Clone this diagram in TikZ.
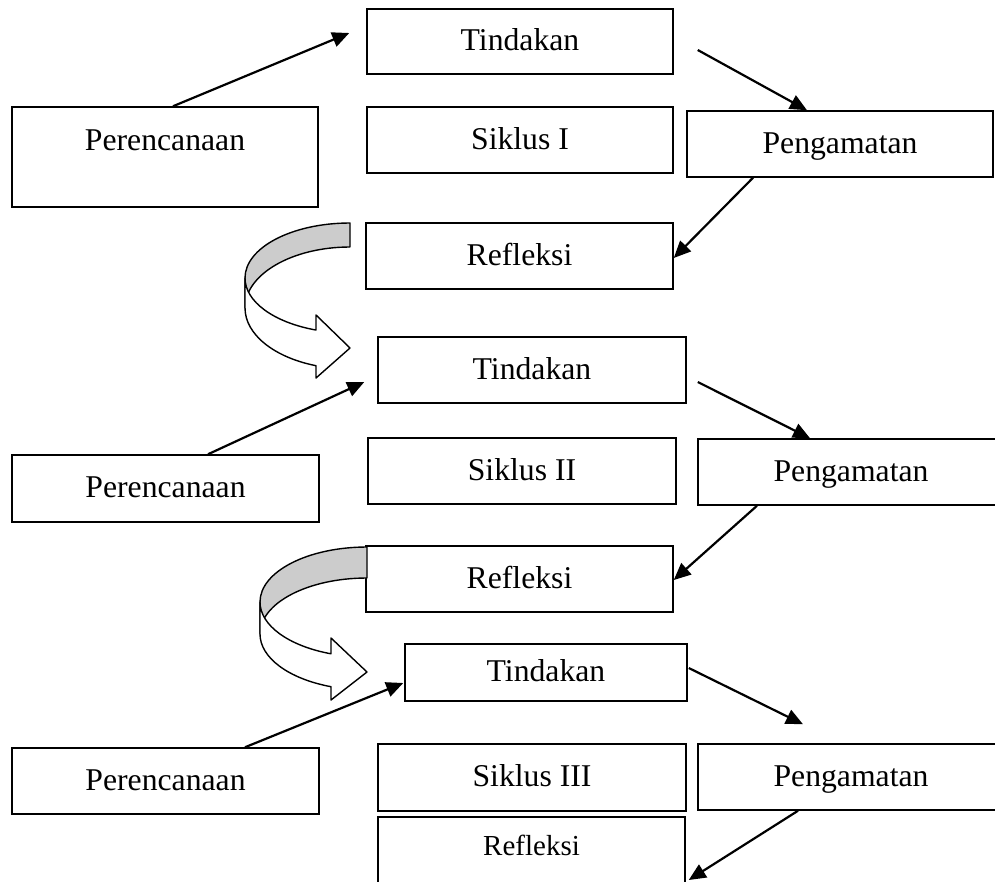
\documentclass[tikz,border=0pt]{standalone}
\usepackage{fontspec}
\setmainfont{Liberation Serif}
\usetikzlibrary{arrows.meta}
\tikzset{
  box/.style={draw, line width=1.5pt, inner sep=0pt, align=center, text height=22pt, text depth=4pt, font=\fontsize{31.7pt}{38pt}\selectfont},
  arr/.style={line width=2.2pt, -{Triangle[length=17pt,width=15pt]}},
  band/.style={draw, line width=1.4pt, line join=round},
}
\begin{document}
\begin{tikzpicture}[x=1pt,y=-1pt]
\useasboundingbox (0,0) rectangle (995,881);
\clip (0,0) rectangle (995,881);

% ---- Siklus I ----
\node[box, minimum width=306pt, minimum height=100pt, text depth=35pt] (p1) at (165,157) {Perencanaan};
\node[box, minimum width=306pt, minimum height=65pt] (t1) at (520,41.5) {Tindakan};
\node[box, minimum width=306pt, minimum height=66pt] (s1) at (520,140) {Siklus I};
\node[box, minimum width=306pt, minimum height=66pt] (g1) at (840,144) {Pengamatan};
\node[box, minimum width=307pt, minimum height=66pt] (r1) at (519.5,256) {Refleksi};

\draw[arr] ([xshift=8pt]p1.north) -- ([xshift=-17pt,yshift=8.5pt]t1.west);
\draw[arr] ([xshift=24pt,yshift=-8.5pt]t1.east) -- ([xshift=-33pt]g1.north);
\draw[arr] ([xshift=-87pt]g1.south) -- ([yshift=-2pt]r1.east);

% curved arrow 1
\fill[black!20] (350,223) arc[start angle=90,end angle=180,x radius=105pt,y radius=55pt]
  -- (245,308) arc[start angle=180,end angle=90,x radius=105pt,y radius=61pt] -- cycle;
\draw[band] (350,223) arc[start angle=90,end angle=180,x radius=105pt,y radius=55pt]
  -- (245,308) arc[start angle=180,end angle=90,x radius=105pt,y radius=61pt] -- cycle;
\filldraw[band, fill=white] (245,278) arc[start angle=180,end angle=251.1,x radius=105pt,y radius=55pt]
  -- (316,315) -- (350,348) -- (316,378) -- (316,365.7)
  arc[start angle=251.1,end angle=180,x radius=105pt,y radius=61pt] -- cycle;

% ---- Siklus II ----
\node[box, minimum width=307pt, minimum height=67pt] (p2) at (165.5,488.5) {Perencanaan};
\node[box, minimum width=308pt, minimum height=66pt] (t2) at (532,370) {Tindakan};
\node[box, minimum width=308pt, minimum height=66pt] (s2) at (522,471) {Siklus II};
\node[box, minimum width=306pt, minimum height=66pt] (g2) at (851,472) {Pengamatan};
\node[box, minimum width=307pt, minimum height=66pt] (r2) at (519.5,579) {Refleksi};

\draw[arr] ([xshift=42.5pt]p2.north) -- ([xshift=-13pt,yshift=-12pt]t2.west);
\draw[arr] ([xshift=11pt,yshift=-12pt]t2.east) -- ([xshift=-41pt]g2.north);
\draw[arr] ([xshift=-94pt]g2.south) -- ([yshift=-1pt]r2.east);

% curved arrow 2
\fill[black!20] (367,547) arc[start angle=90,end angle=180,x radius=107pt,y radius=55pt]
  -- (260,634) arc[start angle=180,end angle=90,x radius=107pt,y radius=56pt] -- cycle;
\draw[band] (367,547) arc[start angle=90,end angle=180,x radius=107pt,y radius=55pt]
  -- (260,634) arc[start angle=180,end angle=90,x radius=107pt,y radius=56pt] -- cycle;
\filldraw[band, fill=white] (260,602) arc[start angle=180,end angle=250.34,x radius=107pt,y radius=55pt]
  -- (331,638) -- (367,672) -- (331,700) -- (331,686.7)
  arc[start angle=250.34,end angle=180,x radius=107pt,y radius=56pt] -- cycle;

% ---- Siklus III ----
\node[box, minimum width=282pt, minimum height=57pt] (t3) at (546,672.5) {Tindakan};
\node[box, minimum width=307pt, minimum height=66pt] (p3) at (165.5,781) {Perencanaan};
\node[box, minimum width=308pt, minimum height=67pt] (s3) at (532,777.5) {Siklus III};
\node[box, minimum width=306pt, minimum height=66pt] (g3) at (851,777) {Pengamatan};
\node[box, minimum width=307pt, minimum height=66pt, text height=20pt, text depth=10pt, font=\fontsize{29pt}{35pt}\selectfont] (r3) at (531.5,850) {Refleksi};

\draw[arr] ([xshift=79.5pt]p3.north) -- ([xshift=-1pt,yshift=-10.5pt]t3.west);
\draw[arr] ([xshift=1pt,yshift=4.5pt]t3.east) -- ([xshift=-48pt,yshift=19pt]g3.north);
\draw[arr] ([xshift=-53pt]g3.south) -- ([xshift=3pt,yshift=-30pt]r3.east);
\end{tikzpicture}
\end{document}
